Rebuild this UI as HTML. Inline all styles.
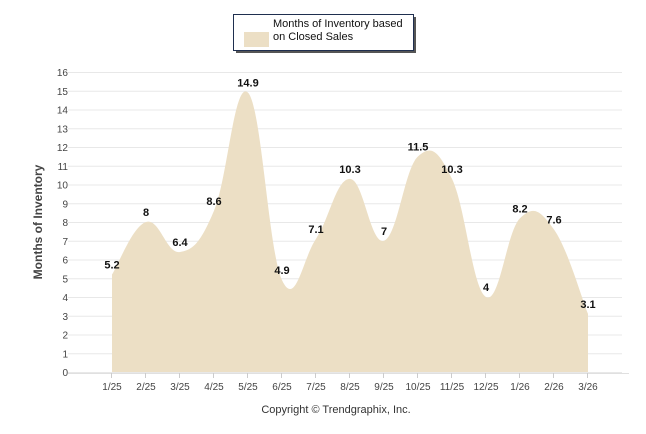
<!DOCTYPE html>
<html><head><meta charset="utf-8"><style>
body{margin:0;background:#fff;}
svg{display:block;font-family:"Liberation Sans",sans-serif;}
</style></head><body>
<svg id="chart" width="646" height="434">
<g>
<rect x="236" y="17" width="180" height="36" fill="#555"/>
<rect x="233.5" y="14.5" width="180" height="36" fill="#fff" stroke="#1f2f4f"/>
<rect x="244" y="32" width="25" height="15" fill="#ecdfc5"/>
<text x="273" y="27" font-size="11" fill="#111">Months of Inventory based</text>
<text x="273" y="40" font-size="11" fill="#111">on Closed Sales</text>
</g>
<g id="grid"></g>
<g id="area"></g>
<g id="labels"></g>
<text transform="translate(42,222) rotate(-90)" text-anchor="middle" font-size="12" font-weight="bold" fill="#444">Months of Inventory</text>
<text x="336" y="413" text-anchor="middle" font-size="11" fill="#333">Copyright © Trendgraphix, Inc.</text>
</svg>
<script>
const categories=["1/25","2/25","3/25","4/25","5/25","6/25","7/25","8/25","9/25","10/25","11/25","12/25","1/26","2/26","3/26"];
const values=[5.2,8,6.4,8.6,14.9,4.9,7.1,10.3,7,11.5,10.3,4,8.2,7.6,3.1];
const valueLabels=["5.2","8","6.4","8.6","14.9","4.9","7.1","10.3","7","11.5","10.3","4","8.2","7.6","3.1"];
const yTicks=[0,1,2,3,4,5,6,7,8,9,10,11,12,13,14,15,16];
const NS="http://www.w3.org/2000/svg";
const x0=112,dx=34,yBase=372,yTop=72,yMax=16;
const xs=i=>x0+i*dx;
const ys=v=>yBase-(v/yMax)*(yBase-yTop);
function mk(t,a,p){const e=document.createElementNS(NS,t);for(const k in a)e.setAttribute(k,a[k]);p.appendChild(e);return e;}
const grid=document.getElementById('grid');
yTicks.forEach(v=>{
 const l=mk('line',{x1:68,x2:622,y1:ys(v)+0.5,y2:ys(v)+0.5,stroke:'#e8e8e8'},grid);
 
 
 const t=mk('text',{x:68,y:ys(v)+4,'text-anchor':'end','font-size':10,fill:'#444'},grid);
 t.textContent=v;
 
 
});
const xa=mk('line',{x1:68,x2:629,y1:yBase+1.5,y2:yBase+1.5,stroke:'#e0e0e0'},grid);


categories.forEach((c,i)=>{
 const tk=mk('line',{x1:xs(i)-0.5,x2:xs(i)-0.5,y1:yBase+1,y2:yBase+6,stroke:'#ccc'},grid);
 
 
 const t=mk('text',{x:xs(i),y:yBase+18,'text-anchor':'middle','font-size':10,fill:'#444'},grid);
 t.textContent=c;
 
 
});
// Catmull-Rom spline
const pts=values.map((v,i)=>[xs(i),ys(v)]);
let d=`M${pts[0][0]},${yBase} L${pts[0][0]},${pts[0][1]}`;
for(let i=0;i<pts.length-1;i++){
 const p0=pts[Math.max(0,i-1)],p1=pts[i],p2=pts[i+1],p3=pts[Math.min(pts.length-1,i+2)];
 const t=0.2;
 const c1=[p1[0]+(p2[0]-p0[0])*t,p1[1]+(p2[1]-p0[1])*t];
 const c2=[p2[0]-(p3[0]-p1[0])*t,p2[1]-(p3[1]-p1[1])*t];
 d+=` C${c1[0]},${c1[1]} ${c2[0]},${c2[1]} ${p2[0]},${p2[1]}`;
}
d+=` L${pts[pts.length-1][0]},${yBase} Z`;
const area=mk('path',{d:d,fill:'#ecdfc5'},document.getElementById('area'));


const lab=document.getElementById('labels');
values.forEach((v,i)=>{
 const t=mk('text',{x:xs(i),y:ys(v)-6,'text-anchor':'middle','font-size':11,'font-weight':'bold',fill:'#111'},lab);
 t.textContent=valueLabels[i];
 
 
});
</script>
</body></html>
